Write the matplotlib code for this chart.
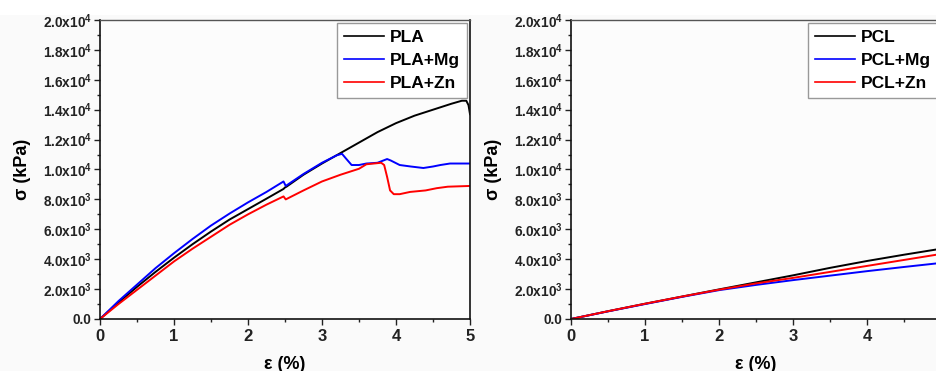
import matplotlib
matplotlib.use("Agg")
import matplotlib.pyplot as plt
from matplotlib.ticker import MultipleLocator, FuncFormatter
from matplotlib.patches import Rectangle

plt.rcParams['font.family'] = ['Liberation Sans', 'DejaVu Sans']
plt.rcParams['mathtext.fontset'] = 'custom'
plt.rcParams['mathtext.rm'] = 'Liberation Sans'
plt.rcParams['mathtext.bf'] = 'Liberation Sans:bold'
plt.rcParams['mathtext.it'] = 'Liberation Sans:italic'

# ---- data (strain %, stress kPa) ----
pla_x = [0, 0.25, 0.5, 0.75, 1.0, 1.25, 1.5, 1.75, 2.0, 2.25, 2.48, 2.5, 2.52, 2.75,
         3.0, 3.25, 3.5, 3.75, 4.0, 4.25, 4.5, 4.75, 4.89, 4.95, 4.98, 5.0]
pla_y = [0, 1100, 2150, 3150, 4100, 5000, 5850, 6650, 7350, 8050, 8700, 8800, 8850, 9650,
         10400, 11100, 11800, 12500, 13100, 13600, 14000, 14400, 14600, 14600, 14300, 13700]

plamg_x = [0, 0.25, 0.5, 0.75, 1.0, 1.25, 1.5, 1.75, 2.0, 2.25, 2.48, 2.51, 2.75, 3.0,
           3.2, 3.27, 3.33, 3.4, 3.5, 3.6, 3.75, 3.88, 3.93, 4.05, 4.2, 4.37, 4.5, 4.6,
           4.73, 5.0]
plamg_y = [0, 1200, 2300, 3400, 4400, 5350, 6250, 7050, 7800, 8500, 9200, 8900, 9700, 10450,
           10950, 11050, 10700, 10300, 10300, 10400, 10450, 10700, 10600, 10300, 10200, 10100,
           10200, 10300, 10400, 10400]

plazn_x = [0, 0.25, 0.5, 0.75, 1.0, 1.25, 1.5, 1.75, 2.0, 2.25, 2.48, 2.51, 2.55, 2.75,
           3.0, 3.25, 3.5, 3.6, 3.8, 3.84, 3.88, 3.92, 3.97, 4.05, 4.19, 4.4, 4.55, 4.7, 5.0]
plazn_y = [0, 1000, 1950, 2900, 3850, 4700, 5500, 6300, 7000, 7650, 8200, 8000, 8100, 8600,
           9200, 9650, 10050, 10350, 10450, 10300, 9500, 8600, 8350, 8350, 8500, 8600, 8750,
           8850, 8900]

pcl_x = [0, 0.5, 1.0, 1.5, 2.0, 2.5, 3.0, 3.5, 4.0, 4.5, 5.0]
pcl_y = [0, 520, 1020, 1500, 1980, 2450, 2920, 3420, 3880, 4300, 4700]
pclmg_y = [0, 510, 1000, 1480, 1930, 2280, 2600, 2900, 3200, 3480, 3750]
pclzn_y = [0, 520, 1020, 1500, 1960, 2380, 2750, 3150, 3550, 3950, 4350]

left_labels = ['PLA', 'PLA+Mg', 'PLA+Zn']
right_labels = ['PCL', 'PCL+Mg', 'PCL+Zn']
colors = ['#000000', '#0000ff', '#ff0000']

fig = plt.figure(figsize=(9.37, 3.71), dpi=100)
fig.patch.set_facecolor('#fafafa')
fig.patches.append(Rectangle((0, 1 - 15/371), 1, 15/371, transform=fig.transFigure,
                             facecolor='white', edgecolor='none', zorder=-1))

ax1 = fig.add_axes([100/937, 1 - 319/371, 370/937, 299/371])
ax2 = fig.add_axes([571/937, 1 - 319/371, 370/937, 299/371])


def yfmt(v, pos):
    if abs(v) < 1e-9:
        return '0.0'
    e = 4 if v >= 1e4 - 1 else 3
    m = v / 10**e
    return r'$\mathbf{%.1fx10^{%d}}$' % (m, e)


for ax, xs_list, ys_list, labels in [
        (ax1, [pla_x, plamg_x, plazn_x], [pla_y, plamg_y, plazn_y], left_labels),
        (ax2, [pcl_x, pcl_x, pcl_x], [pcl_y, pclmg_y, pclzn_y], right_labels)]:
    ax.set_facecolor('#fcfcfc')
    for xs, ys, c, lab in zip(xs_list, ys_list, colors, labels):
        ax.plot(xs, ys, color=c, lw=1.4, label=lab)
    ax.set_xlim(0, 5)
    ax.set_ylim(0, 20000)
    ax.xaxis.set_major_locator(MultipleLocator(1))
    ax.xaxis.set_minor_locator(MultipleLocator(0.5))
    ax.yaxis.set_major_locator(MultipleLocator(2000))
    ax.yaxis.set_minor_locator(MultipleLocator(1000))
    ax.yaxis.set_major_formatter(FuncFormatter(yfmt))
    ax.tick_params(which='both', direction='out', width=1.0, colors='#222222')
    ax.tick_params(which='major', length=4)
    ax.tick_params(which='minor', length=2.5)
    ax.tick_params(axis='y', labelsize=9.8, pad=2)
    ax.tick_params(axis='x', labelsize=12, pad=3)
    for lbl in ax.get_xticklabels() + ax.get_yticklabels():
        lbl.set_fontweight('bold')
    for s in ['left', 'bottom', 'right']:
        ax.spines[s].set_color('#111111')
        ax.spines[s].set_linewidth(1.2)
    ax.spines['top'].set_color('#555555')
    ax.spines['top'].set_linewidth(1.0)
    ax.set_ylabel('σ (kPa)', fontsize=13, fontweight='bold', labelpad=8)
    ax.set_xlabel('ε (%)', fontsize=13, fontweight='bold', labelpad=9)
    leg = ax.legend(loc='upper right', fontsize=12.5, frameon=True, fancybox=False,
                    borderaxespad=0.15, handlelength=2.3, handletextpad=0.35,
                    borderpad=0.4, labelspacing=0.45)
    leg.get_frame().set_edgecolor('#999999')
    leg.get_frame().set_linewidth(1.0)
    leg.get_frame().set_facecolor('white')
    leg.get_frame().set_alpha(1.0)
    for t in leg.get_texts():
        t.set_fontweight('bold')
    for l in leg.get_lines():
        l.set_linewidth(1.2)

fig.savefig('out.png', dpi=100, facecolor=fig.get_facecolor())
